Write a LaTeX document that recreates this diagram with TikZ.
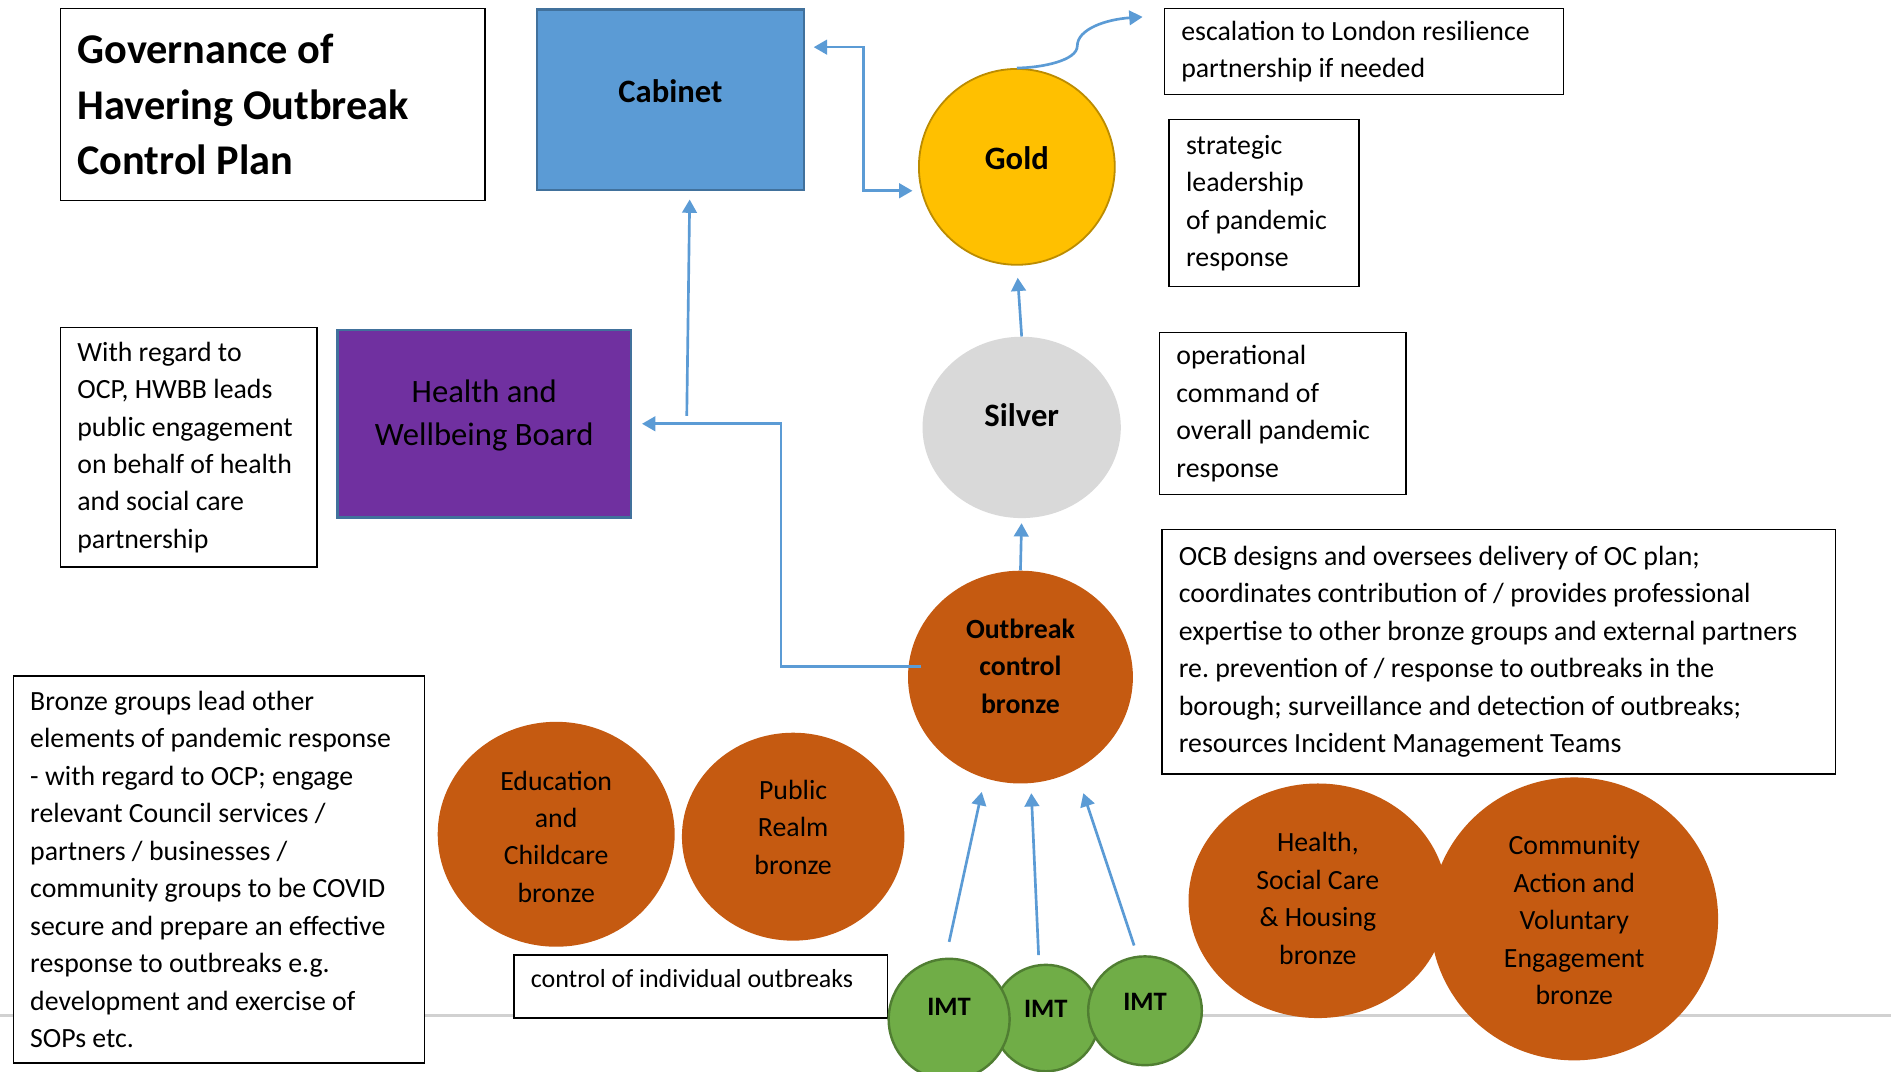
\documentclass[tikz,border=0pt]{standalone}
\usepackage{fontspec}
\setmainfont{Carlito}
\usetikzlibrary{shapes.geometric}
\usetikzlibrary{arrows.meta}
\definecolor{cabblue}{HTML}{5B9BD5}
\definecolor{cabedge}{HTML}{41719C}
\definecolor{hwbbpurple}{HTML}{7030A0}
\definecolor{goldfill}{HTML}{FFC000}
\definecolor{goldedge}{HTML}{BC8C00}
\definecolor{silverfill}{HTML}{D9D9D9}
\definecolor{bronzefill}{HTML}{C55A11}
\definecolor{imtfill}{HTML}{70AD47}
\definecolor{imtedge}{HTML}{507E32}
\definecolor{linkblue}{HTML}{5B9BD5}
\newcommand{\bodyfont}{\fontsize{23}{31}\selectfont}
\newcommand{\unitfont}{\bfseries\fontsize{27}{31}\selectfont}
\frenchspacing

\begin{document}
\begin{tikzpicture}[x=1pt, y=-1pt, >={Triangle[length=11pt,width=12pt]},
 notebox/.style={draw, line width=1.3pt, fill=white, align=flush left, inner xsep=14pt, inner ysep=0pt, font=\bodyfont},
 unit/.style={ellipse, inner sep=0pt},
 bronze/.style={unit, fill=bronzefill},
 imt/.style={unit, fill=imtfill, draw=imtedge, line width=2pt},
 tag/.style={align=flush center, font=\bodyfont, yshift=7pt},
 link/.style={draw=linkblue, line width=2.2pt, ->}]
\useasboundingbox (0,0) rectangle (1564,886);
\fill[white] (0,0) rectangle (1564,886);
\draw[black!18, line width=2.5pt] (0,840) -- (1564,840);

% notes
\node[notebox, font=\bfseries\fontsize{35}{46}\selectfont, text width=323pt, minimum height=159pt] (title) at (225.5,86.5) {Governance of\\Havering Outbreak\\Control Plan};
\node[notebox, text width=302pt, minimum height=71pt] (esc) at (1128,42.5) {escalation to London resilience\\partnership if needed};
\node[notebox, text width=129pt, minimum height=138pt] (strat) at (1045.5,168) {strategic\\leadership\\of pandemic\\response};
\node[notebox, text width=176pt, minimum height=134pt] (oper) at (1061,342) {operational\\command of\\overall pandemic\\response};
\node[notebox, text width=184pt, minimum height=198pt] (hwbbnote) at (156,370) {With regard to\\OCP, HWBB leads\\public engagement\\on behalf of health\\and social care\\partnership};
\node[notebox, text width=529pt, minimum height=202pt] (ocbnote) at (1239.5,539) {OCB designs and oversees delivery of OC plan;\\coordinates contribution of / provides professional\\expertise to other bronze groups and external partners\\re. prevention of / response to outbreaks in the\\borough; surveillance and detection of outbreaks;\\resources Incident Management Teams};
\node[notebox, text width=312pt, minimum height=320pt] (bronzenote) at (181,719) {Bronze groups lead other\\elements of pandemic response\\- with regard to OCP; engage\\relevant Council services /\\partners / businesses /\\community groups to be COVID\\secure and prepare an effective\\response to outbreaks e.g.\\development and exercise of\\SOPs etc.};
\node[notebox, font=\fontsize{21.5}{26}\selectfont, text width=281pt, text depth=13pt, minimum height=52pt] (ctrl) at (579.5,816) {control of individual outbreaks};

% groups
\node[rectangle, fill=cabblue, draw=cabedge, line width=2pt, minimum width=221pt, minimum height=149pt,
 label={[tag, font=\unitfont]center:Cabinet}] (cab) at (554.5,82.5) {};
\node[rectangle, fill=hwbbpurple, draw=cabedge, line width=2pt, minimum width=243pt, minimum height=155pt,
 label={[tag, font=\fontsize{27}{36}\selectfont]center:{Health and\\Wellbeing Board}}] (hwbb) at (400.5,350.5) {};
\node[unit, fill=goldfill, draw=goldedge, line width=1.5pt, minimum width=162pt, minimum height=162pt,
 label={[tag, font=\unitfont]center:Gold}] (gold) at (841,138) {};
\node[unit, fill=silverfill, minimum width=164pt, minimum height=150pt,
 label={[tag, yshift=3pt, font=\unitfont]center:Silver}] (silver) at (845,353.5) {};
\node[bronze, minimum width=186pt, minimum height=176pt,
 label={[tag, yshift=2pt, font=\bfseries\bodyfont]center:{Outbreak\\control\\bronze}}] (ocb) at (844,560) {};
\node[bronze, minimum width=196pt, minimum height=186pt,
 label={[tag, yshift=-9pt]center:{Education\\and\\Childcare\\bronze}}] (edu) at (460,690) {};
\node[bronze, minimum width=184pt, minimum height=172pt,
 label={[tag, yshift=1pt]center:{Public\\Realm\\bronze}}] (realm) at (656,692) {};
\node[bronze, minimum width=214pt, minimum height=194pt,
 label={[tag, yshift=-5pt]center:{Health,\\Social Care\\\& Housing\\bronze}}] (hsch) at (1090,745) {};
\node[bronze, minimum width=238pt, minimum height=234pt,
 label={[tag, yshift=-8pt]center:{Community\\Action and\\Voluntary\\Engagement\\bronze}}] (cave) at (1302,760) {};
\node[imt, minimum width=88pt, minimum height=88pt,
 label={[tag, yshift=1pt, font=\bfseries\fontsize{22}{26}\selectfont]center:IMT}] (imt2) at (865,842) {};
\node[imt, minimum width=100pt, minimum height=100pt,
 label={[tag, yshift=3pt, font=\bfseries\fontsize{22}{26}\selectfont]center:IMT}] (imt1) at (785,843) {};
\node[imt, minimum width=94pt, minimum height=90pt,
 label={[tag, font=\bfseries\fontsize{22}{26}\selectfont]center:IMT}] (imt3) at (947,836) {};

% links
\coordinate (elbow) at (714,0);
\coordinate (escto) at (945,14);
\coordinate (upstart) at (568,344);
\coordinate (ta) at (812,655);
\coordinate (tb) at (853,656);
\coordinate (tc) at (896,656);
\draw[link, <->, shorten <=7pt, shorten >=7pt] ([yshift=-32pt]cab.north east) -| (elbow |- gold.194) -- (gold.194);
\draw[link] (gold.north) .. controls (862,56) and (891,50) .. (891,38) .. controls (891,24) and (915,16) .. (escto);
\draw[link, shorten >=10pt] (silver.north) -- (gold.south);
\draw[link, shorten >=4pt] (ocb.north) -- (silver.south);
\draw[link, shorten >=7pt] (upstart) -- ([xshift=16pt]cab.south);
\draw[link, shorten >=8pt] ([xshift=11pt,yshift=9pt]ocb.west) -| ([xshift=123pt]hwbb.east) -- (hwbb.east);
\draw[link] ([yshift=13pt]imt1.north) -- (ta);
\draw[link] ([xshift=-6pt,yshift=7pt]imt2.north) -- (tb);
\draw[link] ([xshift=-9pt,yshift=8pt]imt3.north) -- (tc);
\end{tikzpicture}
\end{document}
